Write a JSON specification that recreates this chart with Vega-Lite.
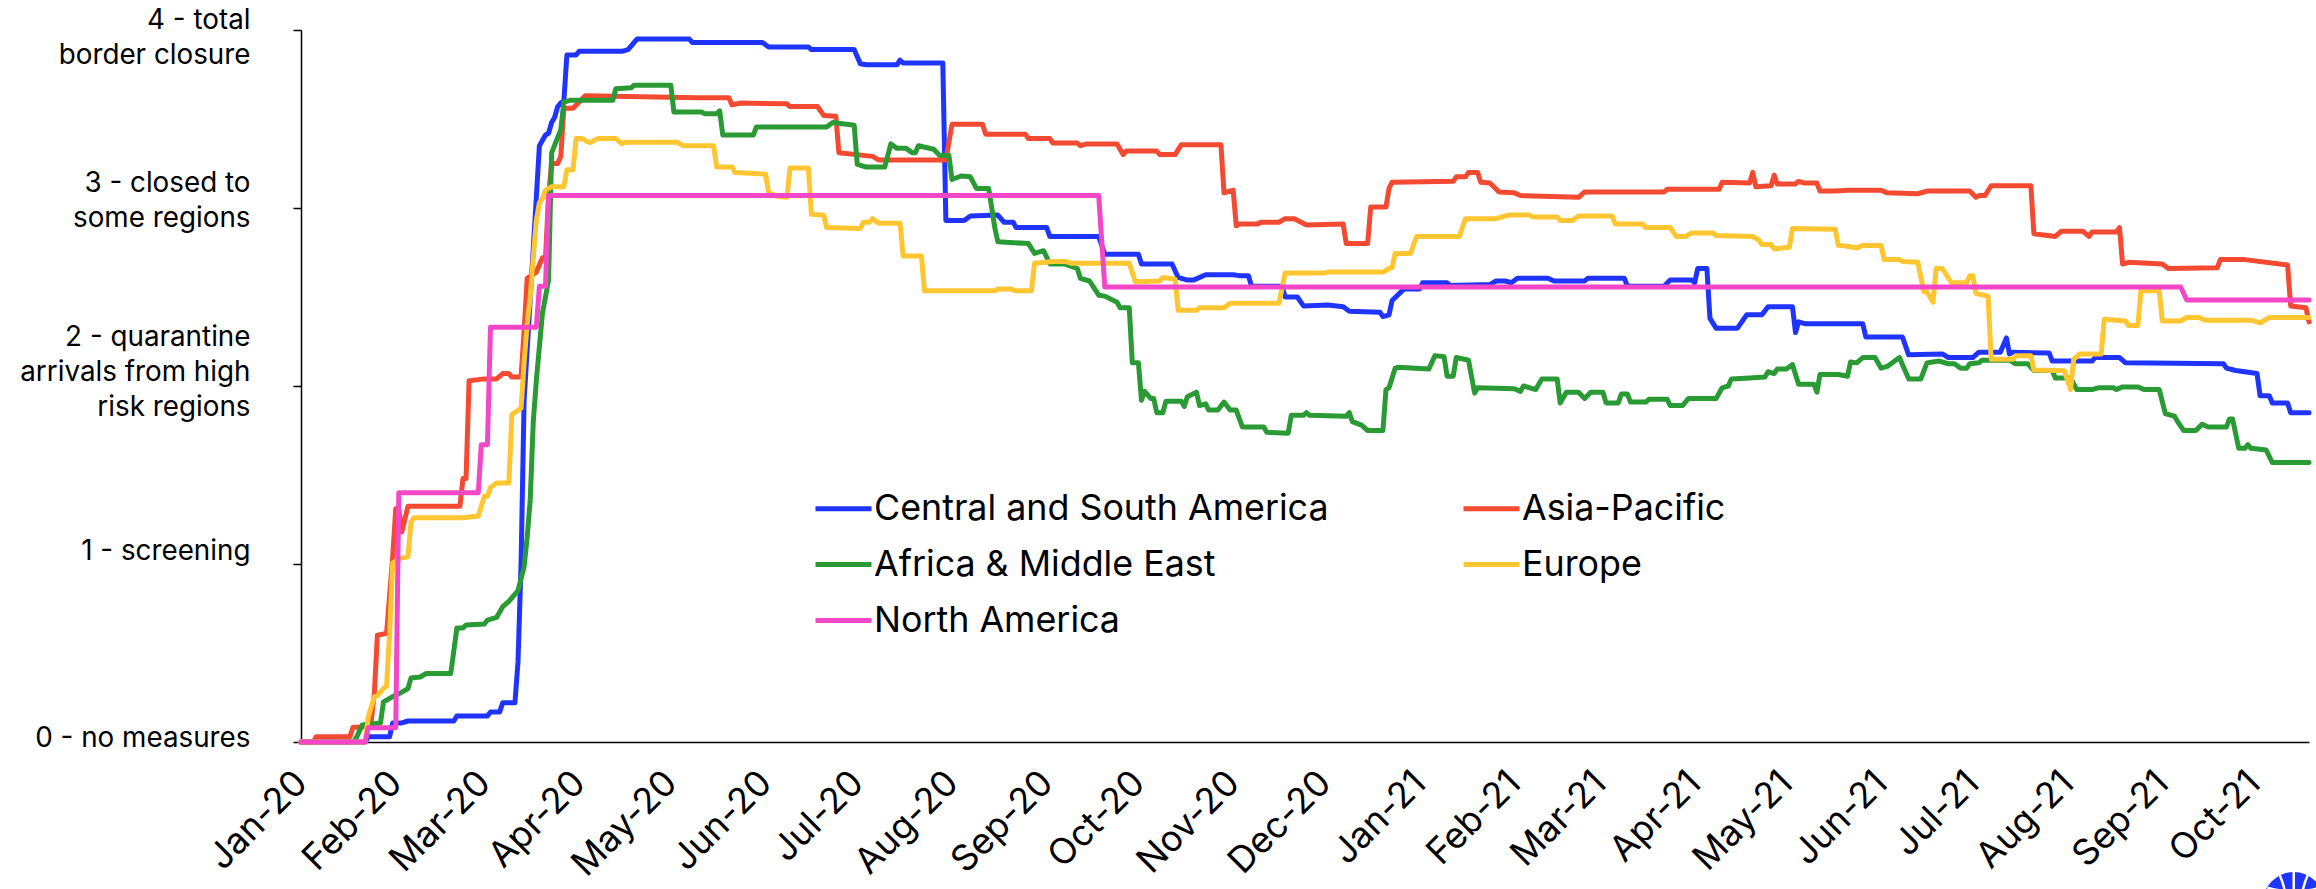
{"$schema":"https://vega.github.io/schema/vega-lite/v6.json","width":2008,"height":712,"autosize":"none","padding":{"left":301,"top":30,"right":7,"bottom":147},"background":"white","config":{"view":{"stroke":null},"font":"Inter"},
"datasets":{
"cs":[{"d":"2020-01-01","v":0},{"d":"2020-01-22","v":0},{"d":"2020-01-23","v":0.03},{"d":"2020-01-30","v":0.03},{"d":"2020-01-31","v":0.107},{"d":"2020-02-03","v":0.107},{"d":"2020-02-05","v":0.118},{"d":"2020-02-20","v":0.118},{"d":"2020-02-21","v":0.146},{"d":"2020-03-02","v":0.146},{"d":"2020-03-03","v":0.169},{"d":"2020-03-06","v":0.169},{"d":"2020-03-07","v":0.22},{"d":"2020-03-11","v":0.22},{"d":"2020-03-12","v":0.45},{"d":"2020-03-13","v":1.0},{"d":"2020-03-14","v":1.92},{"d":"2020-03-18","v":3.06},{"d":"2020-03-19","v":3.35},{"d":"2020-03-21","v":3.41},{"d":"2020-03-22","v":3.42},{"d":"2020-03-23","v":3.48},{"d":"2020-03-24","v":3.51},{"d":"2020-03-25","v":3.57},{"d":"2020-03-26","v":3.59},{"d":"2020-03-27","v":3.6},{"d":"2020-03-28","v":3.86},{"d":"2020-03-31","v":3.86},{"d":"2020-04-01","v":3.88},{"d":"2020-04-15","v":3.88},{"d":"2020-04-17","v":3.89},{"d":"2020-04-20","v":3.95},{"d":"2020-05-07","v":3.95},{"d":"2020-05-08","v":3.93},{"d":"2020-05-31","v":3.93},{"d":"2020-06-02","v":3.905},{"d":"2020-06-15","v":3.905},{"d":"2020-06-16","v":3.89},{"d":"2020-06-30","v":3.89},{"d":"2020-07-02","v":3.81},{"d":"2020-07-04","v":3.805},{"d":"2020-07-14","v":3.805},{"d":"2020-07-15","v":3.83},{"d":"2020-07-16","v":3.815},{"d":"2020-07-29","v":3.815},{"d":"2020-07-30","v":2.93},{"d":"2020-08-05","v":2.93},{"d":"2020-08-07","v":2.955},{"d":"2020-08-16","v":2.96},{"d":"2020-08-18","v":2.92},{"d":"2020-08-21","v":2.92},{"d":"2020-08-22","v":2.89},{"d":"2020-09-01","v":2.89},{"d":"2020-09-02","v":2.84},{"d":"2020-09-18","v":2.84},{"d":"2020-09-20","v":2.74},{"d":"2020-10-01","v":2.74},{"d":"2020-10-02","v":2.685},{"d":"2020-10-12","v":2.685},{"d":"2020-10-14","v":2.61},{"d":"2020-10-17","v":2.595},{"d":"2020-10-19","v":2.595},{"d":"2020-10-23","v":2.625},{"d":"2020-11-01","v":2.625},{"d":"2020-11-03","v":2.62},{"d":"2020-11-06","v":2.62},{"d":"2020-11-07","v":2.56},{"d":"2020-11-17","v":2.56},{"d":"2020-11-18","v":2.5},{"d":"2020-11-22","v":2.5},{"d":"2020-11-24","v":2.45},{"d":"2020-12-02","v":2.455},{"d":"2020-12-07","v":2.445},{"d":"2020-12-09","v":2.42},{"d":"2020-12-19","v":2.415},{"d":"2020-12-20","v":2.39},{"d":"2020-12-22","v":2.4},{"d":"2020-12-23","v":2.48},{"d":"2020-12-26","v":2.53},{"d":"2020-12-27","v":2.545},{"d":"2021-01-01","v":2.545},{"d":"2021-01-02","v":2.58},{"d":"2021-01-10","v":2.58},{"d":"2021-01-11","v":2.565},{"d":"2021-01-24","v":2.57},{"d":"2021-01-26","v":2.59},{"d":"2021-01-29","v":2.59},{"d":"2021-01-31","v":2.58},{"d":"2021-02-02","v":2.605},{"d":"2021-02-12","v":2.605},{"d":"2021-02-14","v":2.59},{"d":"2021-02-24","v":2.59},{"d":"2021-02-25","v":2.605},{"d":"2021-03-09","v":2.605},{"d":"2021-03-10","v":2.56},{"d":"2021-03-22","v":2.56},{"d":"2021-03-24","v":2.595},{"d":"2021-03-31","v":2.595},{"d":"2021-04-01","v":2.58},{"d":"2021-04-02","v":2.66},{"d":"2021-04-05","v":2.66},{"d":"2021-04-06","v":2.38},{"d":"2021-04-08","v":2.325},{"d":"2021-04-15","v":2.325},{"d":"2021-04-18","v":2.4},{"d":"2021-04-23","v":2.4},{"d":"2021-04-25","v":2.445},{"d":"2021-05-03","v":2.445},{"d":"2021-05-04","v":2.3},{"d":"2021-05-05","v":2.36},{"d":"2021-05-07","v":2.35},{"d":"2021-05-26","v":2.35},{"d":"2021-05-27","v":2.275},{"d":"2021-06-08","v":2.275},{"d":"2021-06-10","v":2.175},{"d":"2021-06-21","v":2.18},{"d":"2021-06-23","v":2.16},{"d":"2021-07-01","v":2.16},{"d":"2021-07-03","v":2.19},{"d":"2021-07-10","v":2.19},{"d":"2021-07-12","v":2.27},{"d":"2021-07-13","v":2.18},{"d":"2021-07-14","v":2.19},{"d":"2021-07-26","v":2.185},{"d":"2021-07-27","v":2.14},{"d":"2021-08-09","v":2.14},{"d":"2021-08-10","v":2.16},{"d":"2021-08-18","v":2.16},{"d":"2021-08-20","v":2.13},{"d":"2021-09-21","v":2.125},{"d":"2021-09-22","v":2.1},{"d":"2021-09-25","v":2.087},{"d":"2021-10-02","v":2.07},{"d":"2021-10-03","v":1.945},{"d":"2021-10-06","v":1.945},{"d":"2021-10-07","v":1.905},{"d":"2021-10-12","v":1.905},{"d":"2021-10-13","v":1.85},{"d":"2021-10-19","v":1.85}],
"ap":[{"d":"2020-01-01","v":0},{"d":"2020-01-05","v":0},{"d":"2020-01-06","v":0.03},{"d":"2020-01-17","v":0.03},{"d":"2020-01-18","v":0.083},{"d":"2020-01-21","v":0.083},{"d":"2020-01-24","v":0.12},{"d":"2020-01-25","v":0.275},{"d":"2020-01-26","v":0.6},{"d":"2020-01-29","v":0.61},{"d":"2020-01-31","v":1.04},{"d":"2020-02-01","v":1.31},{"d":"2020-02-02","v":1.31},{"d":"2020-02-03","v":1.18},{"d":"2020-02-05","v":1.325},{"d":"2020-02-22","v":1.325},{"d":"2020-02-23","v":1.48},{"d":"2020-02-24","v":1.48},{"d":"2020-02-25","v":2.03},{"d":"2020-03-01","v":2.04},{"d":"2020-03-05","v":2.04},{"d":"2020-03-07","v":2.07},{"d":"2020-03-09","v":2.07},{"d":"2020-03-10","v":2.05},{"d":"2020-03-13","v":2.05},{"d":"2020-03-14","v":2.31},{"d":"2020-03-15","v":2.605},{"d":"2020-03-18","v":2.64},{"d":"2020-03-20","v":2.72},{"d":"2020-03-21","v":2.72},{"d":"2020-03-22","v":3.07},{"d":"2020-03-23","v":3.25},{"d":"2020-03-25","v":3.25},{"d":"2020-03-26","v":3.29},{"d":"2020-03-27","v":3.56},{"d":"2020-03-30","v":3.56},{"d":"2020-04-01","v":3.595},{"d":"2020-04-03","v":3.63},{"d":"2020-05-10","v":3.62},{"d":"2020-05-20","v":3.62},{"d":"2020-05-21","v":3.58},{"d":"2020-05-24","v":3.59},{"d":"2020-06-08","v":3.585},{"d":"2020-06-09","v":3.57},{"d":"2020-06-18","v":3.57},{"d":"2020-06-20","v":3.52},{"d":"2020-06-24","v":3.515},{"d":"2020-06-25","v":3.31},{"d":"2020-07-06","v":3.29},{"d":"2020-07-08","v":3.27},{"d":"2020-07-30","v":3.27},{"d":"2020-08-01","v":3.47},{"d":"2020-08-11","v":3.47},{"d":"2020-08-12","v":3.415},{"d":"2020-08-25","v":3.415},{"d":"2020-08-26","v":3.39},{"d":"2020-09-02","v":3.39},{"d":"2020-09-03","v":3.365},{"d":"2020-09-11","v":3.365},{"d":"2020-09-12","v":3.35},{"d":"2020-09-14","v":3.36},{"d":"2020-09-24","v":3.36},{"d":"2020-09-26","v":3.3},{"d":"2020-09-27","v":3.32},{"d":"2020-10-07","v":3.32},{"d":"2020-10-08","v":3.3},{"d":"2020-10-13","v":3.3},{"d":"2020-10-15","v":3.355},{"d":"2020-10-28","v":3.355},{"d":"2020-10-29","v":3.085},{"d":"2020-11-01","v":3.1},{"d":"2020-11-02","v":2.9},{"d":"2020-11-03","v":2.91},{"d":"2020-11-09","v":2.91},{"d":"2020-11-10","v":2.92},{"d":"2020-11-16","v":2.92},{"d":"2020-11-18","v":2.94},{"d":"2020-11-21","v":2.94},{"d":"2020-11-25","v":2.905},{"d":"2020-12-07","v":2.91},{"d":"2020-12-08","v":2.8},{"d":"2020-12-15","v":2.8},{"d":"2020-12-16","v":3.005},{"d":"2020-12-21","v":3.005},{"d":"2020-12-22","v":3.11},{"d":"2020-12-23","v":3.145},{"d":"2021-01-12","v":3.15},{"d":"2021-01-13","v":3.175},{"d":"2021-01-16","v":3.175},{"d":"2021-01-17","v":3.2},{"d":"2021-01-20","v":3.2},{"d":"2021-01-21","v":3.145},{"d":"2021-01-24","v":3.14},{"d":"2021-01-27","v":3.09},{"d":"2021-02-01","v":3.085},{"d":"2021-02-03","v":3.07},{"d":"2021-02-22","v":3.06},{"d":"2021-02-24","v":3.09},{"d":"2021-03-22","v":3.09},{"d":"2021-03-23","v":3.105},{"d":"2021-04-09","v":3.105},{"d":"2021-04-10","v":3.145},{"d":"2021-04-19","v":3.14},{"d":"2021-04-20","v":3.2},{"d":"2021-04-21","v":3.12},{"d":"2021-04-26","v":3.125},{"d":"2021-04-27","v":3.185},{"d":"2021-04-28","v":3.135},{"d":"2021-05-04","v":3.135},{"d":"2021-05-05","v":3.15},{"d":"2021-05-07","v":3.14},{"d":"2021-05-11","v":3.14},{"d":"2021-05-12","v":3.095},{"d":"2021-05-17","v":3.095},{"d":"2021-05-21","v":3.1},{"d":"2021-06-01","v":3.1},{"d":"2021-06-03","v":3.085},{"d":"2021-06-13","v":3.08},{"d":"2021-06-16","v":3.095},{"d":"2021-06-30","v":3.095},{"d":"2021-07-02","v":3.06},{"d":"2021-07-03","v":3.07},{"d":"2021-07-05","v":3.07},{"d":"2021-07-07","v":3.125},{"d":"2021-07-20","v":3.125},{"d":"2021-07-21","v":2.855},{"d":"2021-07-28","v":2.84},{"d":"2021-07-30","v":2.87},{"d":"2021-08-06","v":2.87},{"d":"2021-08-08","v":2.84},{"d":"2021-08-09","v":2.865},{"d":"2021-08-17","v":2.865},{"d":"2021-08-18","v":2.89},{"d":"2021-08-19","v":2.685},{"d":"2021-08-21","v":2.695},{"d":"2021-09-01","v":2.685},{"d":"2021-09-03","v":2.66},{"d":"2021-09-19","v":2.665},{"d":"2021-09-20","v":2.71},{"d":"2021-09-28","v":2.71},{"d":"2021-10-12","v":2.68},{"d":"2021-10-13","v":2.45},{"d":"2021-10-18","v":2.44},{"d":"2021-10-19","v":2.36}],
"am":[{"d":"2020-01-01","v":0},{"d":"2020-01-18","v":0},{"d":"2020-01-19","v":0.02},{"d":"2020-01-21","v":0.095},{"d":"2020-01-27","v":0.107},{"d":"2020-01-28","v":0.225},{"d":"2020-01-31","v":0.255},{"d":"2020-02-03","v":0.28},{"d":"2020-02-05","v":0.3},{"d":"2020-02-06","v":0.36},{"d":"2020-02-09","v":0.365},{"d":"2020-02-11","v":0.385},{"d":"2020-02-19","v":0.385},{"d":"2020-02-21","v":0.64},{"d":"2020-02-23","v":0.64},{"d":"2020-02-24","v":0.657},{"d":"2020-03-01","v":0.663},{"d":"2020-03-02","v":0.685},{"d":"2020-03-05","v":0.7},{"d":"2020-03-07","v":0.76},{"d":"2020-03-09","v":0.79},{"d":"2020-03-12","v":0.85},{"d":"2020-03-14","v":0.985},{"d":"2020-03-15","v":1.15},{"d":"2020-03-16","v":1.36},{"d":"2020-03-17","v":1.8},{"d":"2020-03-18","v":2.03},{"d":"2020-03-20","v":2.41},{"d":"2020-03-21","v":2.5},{"d":"2020-03-22","v":2.595},{"d":"2020-03-23","v":3.31},{"d":"2020-03-26","v":3.44},{"d":"2020-03-27","v":3.595},{"d":"2020-03-29","v":3.605},{"d":"2020-04-12","v":3.605},{"d":"2020-04-13","v":3.67},{"d":"2020-04-18","v":3.675},{"d":"2020-04-19","v":3.69},{"d":"2020-05-01","v":3.69},{"d":"2020-05-02","v":3.54},{"d":"2020-05-11","v":3.54},{"d":"2020-05-12","v":3.53},{"d":"2020-05-16","v":3.53},{"d":"2020-05-17","v":3.545},{"d":"2020-05-18","v":3.41},{"d":"2020-05-28","v":3.41},{"d":"2020-05-29","v":3.455},{"d":"2020-06-21","v":3.455},{"d":"2020-06-23","v":3.48},{"d":"2020-06-30","v":3.465},{"d":"2020-07-01","v":3.245},{"d":"2020-07-04","v":3.23},{"d":"2020-07-10","v":3.23},{"d":"2020-07-12","v":3.36},{"d":"2020-07-14","v":3.335},{"d":"2020-07-17","v":3.335},{"d":"2020-07-19","v":3.31},{"d":"2020-07-20","v":3.31},{"d":"2020-07-21","v":3.35},{"d":"2020-07-26","v":3.33},{"d":"2020-07-28","v":3.295},{"d":"2020-07-31","v":3.295},{"d":"2020-08-01","v":3.16},{"d":"2020-08-04","v":3.18},{"d":"2020-08-07","v":3.175},{"d":"2020-08-09","v":3.11},{"d":"2020-08-13","v":3.11},{"d":"2020-08-15","v":2.89},{"d":"2020-08-16","v":2.81},{"d":"2020-08-26","v":2.8},{"d":"2020-08-28","v":2.745},{"d":"2020-08-31","v":2.76},{"d":"2020-09-02","v":2.685},{"d":"2020-09-07","v":2.685},{"d":"2020-09-11","v":2.66},{"d":"2020-09-12","v":2.605},{"d":"2020-09-15","v":2.59},{"d":"2020-09-18","v":2.51},{"d":"2020-09-20","v":2.505},{"d":"2020-09-24","v":2.47},{"d":"2020-09-25","v":2.44},{"d":"2020-09-28","v":2.44},{"d":"2020-09-29","v":2.13},{"d":"2020-10-01","v":2.13},{"d":"2020-10-02","v":1.92},{"d":"2020-10-03","v":1.97},{"d":"2020-10-05","v":1.93},{"d":"2020-10-06","v":1.93},{"d":"2020-10-07","v":1.85},{"d":"2020-10-09","v":1.85},{"d":"2020-10-10","v":1.915},{"d":"2020-10-15","v":1.915},{"d":"2020-10-16","v":1.885},{"d":"2020-10-17","v":1.94},{"d":"2020-10-20","v":1.965},{"d":"2020-10-21","v":1.89},{"d":"2020-10-23","v":1.9},{"d":"2020-10-24","v":1.865},{"d":"2020-10-27","v":1.865},{"d":"2020-10-29","v":1.91},{"d":"2020-10-31","v":1.865},{"d":"2020-11-02","v":1.865},{"d":"2020-11-04","v":1.77},{"d":"2020-11-11","v":1.77},{"d":"2020-11-12","v":1.74},{"d":"2020-11-19","v":1.735},{"d":"2020-11-20","v":1.835},{"d":"2020-11-24","v":1.835},{"d":"2020-11-25","v":1.85},{"d":"2020-11-26","v":1.835},{"d":"2020-12-08","v":1.83},{"d":"2020-12-09","v":1.85},{"d":"2020-12-10","v":1.8},{"d":"2020-12-13","v":1.78},{"d":"2020-12-15","v":1.75},{"d":"2020-12-20","v":1.75},{"d":"2020-12-21","v":1.98},{"d":"2020-12-22","v":1.99},{"d":"2020-12-24","v":2.1},{"d":"2020-12-25","v":2.105},{"d":"2021-01-04","v":2.095},{"d":"2021-01-06","v":2.17},{"d":"2021-01-09","v":2.165},{"d":"2021-01-10","v":2.055},{"d":"2021-01-12","v":2.055},{"d":"2021-01-13","v":2.16},{"d":"2021-01-17","v":2.145},{"d":"2021-01-19","v":1.96},{"d":"2021-01-20","v":1.99},{"d":"2021-02-01","v":1.985},{"d":"2021-02-03","v":1.97},{"d":"2021-02-04","v":2.0},{"d":"2021-02-08","v":1.98},{"d":"2021-02-10","v":2.04},{"d":"2021-02-15","v":2.04},{"d":"2021-02-16","v":1.905},{"d":"2021-02-18","v":1.965},{"d":"2021-02-22","v":1.965},{"d":"2021-02-24","v":1.93},{"d":"2021-02-26","v":1.965},{"d":"2021-03-02","v":1.965},{"d":"2021-03-03","v":1.905},{"d":"2021-03-07","v":1.905},{"d":"2021-03-08","v":1.955},{"d":"2021-03-10","v":1.955},{"d":"2021-03-11","v":1.91},{"d":"2021-03-16","v":1.91},{"d":"2021-03-17","v":1.925},{"d":"2021-03-23","v":1.925},{"d":"2021-03-24","v":1.89},{"d":"2021-03-28","v":1.89},{"d":"2021-03-30","v":1.93},{"d":"2021-04-08","v":1.93},{"d":"2021-04-10","v":1.99},{"d":"2021-04-12","v":2.0},{"d":"2021-04-13","v":2.04},{"d":"2021-04-19","v":2.045},{"d":"2021-04-24","v":2.05},{"d":"2021-04-25","v":2.08},{"d":"2021-04-27","v":2.07},{"d":"2021-04-28","v":2.095},{"d":"2021-05-01","v":2.095},{"d":"2021-05-03","v":2.12},{"d":"2021-05-05","v":2.01},{"d":"2021-05-10","v":2.01},{"d":"2021-05-11","v":1.965},{"d":"2021-05-12","v":2.065},{"d":"2021-05-18","v":2.065},{"d":"2021-05-21","v":2.055},{"d":"2021-05-22","v":2.135},{"d":"2021-05-24","v":2.13},{"d":"2021-05-26","v":2.16},{"d":"2021-05-30","v":2.16},{"d":"2021-06-01","v":2.1},{"d":"2021-06-03","v":2.11},{"d":"2021-06-07","v":2.16},{"d":"2021-06-08","v":2.12},{"d":"2021-06-10","v":2.04},{"d":"2021-06-14","v":2.04},{"d":"2021-06-16","v":2.13},{"d":"2021-06-20","v":2.14},{"d":"2021-06-23","v":2.125},{"d":"2021-06-25","v":2.125},{"d":"2021-06-27","v":2.1},{"d":"2021-06-29","v":2.1},{"d":"2021-06-30","v":2.125},{"d":"2021-07-03","v":2.13},{"d":"2021-07-04","v":2.145},{"d":"2021-07-13","v":2.145},{"d":"2021-07-15","v":2.125},{"d":"2021-07-19","v":2.125},{"d":"2021-07-21","v":2.087},{"d":"2021-07-27","v":2.087},{"d":"2021-07-28","v":2.045},{"d":"2021-08-02","v":2.045},{"d":"2021-08-04","v":1.98},{"d":"2021-08-09","v":1.98},{"d":"2021-08-11","v":1.99},{"d":"2021-08-16","v":1.99},{"d":"2021-08-17","v":1.98},{"d":"2021-08-19","v":1.995},{"d":"2021-08-24","v":1.995},{"d":"2021-08-26","v":1.98},{"d":"2021-08-31","v":1.98},{"d":"2021-09-02","v":1.845},{"d":"2021-09-05","v":1.83},{"d":"2021-09-06","v":1.8},{"d":"2021-09-08","v":1.75},{"d":"2021-09-12","v":1.75},{"d":"2021-09-14","v":1.785},{"d":"2021-09-16","v":1.77},{"d":"2021-09-22","v":1.77},{"d":"2021-09-23","v":1.815},{"d":"2021-09-24","v":1.815},{"d":"2021-09-26","v":1.65},{"d":"2021-09-28","v":1.65},{"d":"2021-09-29","v":1.67},{"d":"2021-09-30","v":1.65},{"d":"2021-10-05","v":1.64},{"d":"2021-10-07","v":1.57},{"d":"2021-10-19","v":1.57}],
"eu":[{"d":"2020-01-01","v":0},{"d":"2020-01-22","v":0},{"d":"2020-01-23","v":0.14},{"d":"2020-01-25","v":0.255},{"d":"2020-01-26","v":0.26},{"d":"2020-01-28","v":0.3},{"d":"2020-01-29","v":0.315},{"d":"2020-01-30","v":0.61},{"d":"2020-01-31","v":1.005},{"d":"2020-02-02","v":1.03},{"d":"2020-02-05","v":1.04},{"d":"2020-02-06","v":1.235},{"d":"2020-02-07","v":1.26},{"d":"2020-02-23","v":1.26},{"d":"2020-02-28","v":1.27},{"d":"2020-03-01","v":1.38},{"d":"2020-03-02","v":1.38},{"d":"2020-03-03","v":1.43},{"d":"2020-03-05","v":1.455},{"d":"2020-03-09","v":1.455},{"d":"2020-03-10","v":1.84},{"d":"2020-03-13","v":1.875},{"d":"2020-03-14","v":2.13},{"d":"2020-03-15","v":2.35},{"d":"2020-03-16","v":2.5},{"d":"2020-03-17","v":2.725},{"d":"2020-03-18","v":2.93},{"d":"2020-03-19","v":3.03},{"d":"2020-03-20","v":3.055},{"d":"2020-03-21","v":3.1},{"d":"2020-03-23","v":3.12},{"d":"2020-03-27","v":3.12},{"d":"2020-03-28","v":3.215},{"d":"2020-03-30","v":3.215},{"d":"2020-03-31","v":3.39},{"d":"2020-04-02","v":3.39},{"d":"2020-04-04","v":3.37},{"d":"2020-04-05","v":3.37},{"d":"2020-04-07","v":3.39},{"d":"2020-04-13","v":3.39},{"d":"2020-04-15","v":3.36},{"d":"2020-04-16","v":3.37},{"d":"2020-05-03","v":3.37},{"d":"2020-05-05","v":3.35},{"d":"2020-05-15","v":3.35},{"d":"2020-05-16","v":3.23},{"d":"2020-05-21","v":3.23},{"d":"2020-05-22","v":3.2},{"d":"2020-06-01","v":3.19},{"d":"2020-06-02","v":3.085},{"d":"2020-06-05","v":3.065},{"d":"2020-06-08","v":3.06},{"d":"2020-06-09","v":3.225},{"d":"2020-06-15","v":3.225},{"d":"2020-06-16","v":2.965},{"d":"2020-06-20","v":2.96},{"d":"2020-06-21","v":2.89},{"d":"2020-07-02","v":2.885},{"d":"2020-07-03","v":2.92},{"d":"2020-07-05","v":2.92},{"d":"2020-07-06","v":2.94},{"d":"2020-07-08","v":2.915},{"d":"2020-07-15","v":2.915},{"d":"2020-07-16","v":2.73},{"d":"2020-07-22","v":2.73},{"d":"2020-07-23","v":2.535},{"d":"2020-08-15","v":2.535},{"d":"2020-08-16","v":2.545},{"d":"2020-08-20","v":2.545},{"d":"2020-08-22","v":2.535},{"d":"2020-08-27","v":2.535},{"d":"2020-08-28","v":2.69},{"d":"2020-09-03","v":2.7},{"d":"2020-09-07","v":2.7},{"d":"2020-09-09","v":2.69},{"d":"2020-09-28","v":2.69},{"d":"2020-09-30","v":2.585},{"d":"2020-10-08","v":2.59},{"d":"2020-10-09","v":2.61},{"d":"2020-10-13","v":2.6},{"d":"2020-10-14","v":2.425},{"d":"2020-10-20","v":2.425},{"d":"2020-10-21","v":2.44},{"d":"2020-10-29","v":2.44},{"d":"2020-10-31","v":2.465},{"d":"2020-11-16","v":2.465},{"d":"2020-11-18","v":2.635},{"d":"2020-12-01","v":2.635},{"d":"2020-12-02","v":2.64},{"d":"2020-12-20","v":2.64},{"d":"2020-12-22","v":2.66},{"d":"2020-12-23","v":2.665},{"d":"2020-12-24","v":2.745},{"d":"2020-12-29","v":2.745},{"d":"2020-12-31","v":2.84},{"d":"2021-01-14","v":2.84},{"d":"2021-01-16","v":2.94},{"d":"2021-01-26","v":2.94},{"d":"2021-01-30","v":2.96},{"d":"2021-02-06","v":2.96},{"d":"2021-02-07","v":2.95},{"d":"2021-02-15","v":2.95},{"d":"2021-02-16","v":2.93},{"d":"2021-02-20","v":2.93},{"d":"2021-02-22","v":2.955},{"d":"2021-03-05","v":2.955},{"d":"2021-03-06","v":2.91},{"d":"2021-03-15","v":2.91},{"d":"2021-03-16","v":2.89},{"d":"2021-03-24","v":2.89},{"d":"2021-03-26","v":2.84},{"d":"2021-03-29","v":2.84},{"d":"2021-03-31","v":2.86},{"d":"2021-04-07","v":2.86},{"d":"2021-04-08","v":2.845},{"d":"2021-04-20","v":2.84},{"d":"2021-04-22","v":2.82},{"d":"2021-04-23","v":2.795},{"d":"2021-04-26","v":2.795},{"d":"2021-04-27","v":2.77},{"d":"2021-05-02","v":2.78},{"d":"2021-05-03","v":2.885},{"d":"2021-05-17","v":2.88},{"d":"2021-05-18","v":2.79},{"d":"2021-05-21","v":2.785},{"d":"2021-05-24","v":2.775},{"d":"2021-05-26","v":2.79},{"d":"2021-06-01","v":2.79},{"d":"2021-06-02","v":2.71},{"d":"2021-06-07","v":2.71},{"d":"2021-06-08","v":2.7},{"d":"2021-06-13","v":2.695},{"d":"2021-06-15","v":2.53},{"d":"2021-06-16","v":2.53},{"d":"2021-06-18","v":2.47},{"d":"2021-06-19","v":2.66},{"d":"2021-06-21","v":2.66},{"d":"2021-06-24","v":2.58},{"d":"2021-06-29","v":2.58},{"d":"2021-06-30","v":2.62},{"d":"2021-07-01","v":2.62},{"d":"2021-07-02","v":2.52},{"d":"2021-07-06","v":2.505},{"d":"2021-07-07","v":2.15},{"d":"2021-07-14","v":2.15},{"d":"2021-07-15","v":2.17},{"d":"2021-07-20","v":2.17},{"d":"2021-07-21","v":2.09},{"d":"2021-07-31","v":2.085},{"d":"2021-08-02","v":1.98},{"d":"2021-08-03","v":2.15},{"d":"2021-08-05","v":2.18},{"d":"2021-08-12","v":2.18},{"d":"2021-08-13","v":2.375},{"d":"2021-08-20","v":2.365},{"d":"2021-08-21","v":2.34},{"d":"2021-08-24","v":2.34},{"d":"2021-08-25","v":2.535},{"d":"2021-08-31","v":2.535},{"d":"2021-09-01","v":2.365},{"d":"2021-09-07","v":2.365},{"d":"2021-09-09","v":2.385},{"d":"2021-09-13","v":2.385},{"d":"2021-09-15","v":2.37},{"d":"2021-09-30","v":2.37},{"d":"2021-10-03","v":2.355},{"d":"2021-10-06","v":2.385},{"d":"2021-10-19","v":2.385}],
"na":[{"d":"2020-01-01","v":0},{"d":"2020-01-22","v":0},{"d":"2020-01-23","v":0.08},{"d":"2020-02-01","v":0.08},{"d":"2020-02-02","v":1.4},{"d":"2020-02-28","v":1.4},{"d":"2020-02-29","v":1.67},{"d":"2020-03-02","v":1.67},{"d":"2020-03-03","v":2.33},{"d":"2020-03-18","v":2.33},{"d":"2020-03-19","v":2.56},{"d":"2020-03-21","v":2.56},{"d":"2020-03-22","v":3.07},{"d":"2020-09-18","v":3.07},{"d":"2020-09-20","v":2.556},{"d":"2021-09-07","v":2.556},{"d":"2021-09-09","v":2.483},{"d":"2021-10-19","v":2.483}],
"logo":[{"d":"2021-10-14","v":-0.905}]
},
"encoding":{"x":{"field":"d","type":"temporal","title":null,"scale":{"type":"utc","domain":["2020-01-01","2021-10-19"]},"axis":{"labelExpr":"utcFormat(datum.value,'%b-%y')","tickCount":{"interval":"month","step":1},"ticks":false,"grid":false,"domainColor":"#000","domainWidth":1.5,"labelAngle":-45,"labelAlign":"right","labelBaseline":"middle","labelFontSize":36,"labelColor":"#000","labelPadding":35,"labelOverlap":false,"labelFont":"Inter","labelBound":false,"labelFlush":false,"labelLimit":400}},
"y":{"field":"v","type":"quantitative","title":null,"scale":{"domain":[0,4],"nice":false,"zero":false},"axis":{"values":[0,1,2,3,4],"grid":false,"domainColor":"#000","domainWidth":1.5,"tickColor":"#000","tickWidth":1.5,"tickSize":8,"labelFont":"Inter","labelFontSize":27.8,"labelColor":"#000","labelPadding":43,"labelLineHeight":35,"labelAlign":"right","labelOverlap":false,"labelLimit":400,"labelExpr":"datum.value==4?['4 - total\u00a0\u00a0','border closure']:datum.value==3?['3 - closed to\u00a0\u00a0','some regions']:datum.value==2?['2 - quarantine\u00a0\u00a0','arrivals from high\u00a0','risk regions\u00a0']:datum.value==1?'1 - screening':'0 - no measures'","labelOffset":{"condition":[{"test":"datum.value==4","value":-10},{"test":"datum.value==3","value":-25},{"test":"datum.value==2","value":-49},{"test":"datum.value==1","value":-13}],"value":-4}}}},
"layer":[
{"data":{"name":"cs"},"mark":{"type":"line","strokeWidth":5,"strokeJoin":"round","strokeCap":"round"},"encoding":{"color":{"datum":"Central and South America","type":"nominal","title":null,"scale":{"domain":["Central and South America","Africa & Middle East","North America","Asia-Pacific","Europe"],"range":["#1f35ff","#2a9a35","#f347c8","#f44a32","#ffc632"]},"legend":{"orient":"none","legendX":512,"legendY":448,"columns":2,"symbolType":"stroke","symbolSize":3136,"symbolStrokeWidth":5,"labelFont":"Inter","labelFontSize":35.8,"labelColor":"#000","labelLimit":700,"labelOffset":0,"columnPadding":124,"rowPadding":7,"padding":0}}}},
{"data":{"name":"ap"},"mark":{"type":"line","strokeWidth":5,"strokeJoin":"round","strokeCap":"round"},"encoding":{"color":{"datum":"Asia-Pacific","type":"nominal"}}},
{"data":{"name":"am"},"mark":{"type":"line","strokeWidth":5,"strokeJoin":"round","strokeCap":"round"},"encoding":{"color":{"datum":"Africa & Middle East","type":"nominal"}}},
{"data":{"name":"eu"},"mark":{"type":"line","strokeWidth":5,"strokeJoin":"round","strokeCap":"round"},"encoding":{"color":{"datum":"Europe","type":"nominal"}}},
{"data":{"name":"na"},"mark":{"type":"line","strokeWidth":5,"strokeJoin":"round","strokeCap":"round"},"encoding":{"color":{"datum":"North America","type":"nominal"}}},
{"data":{"name":"logo"},"mark":{"type":"point","shape":"circle","filled":true,"size":3844,"color":"#1f35ff","opacity":1,"clip":false}},
{"data":{"name":"logo"},"mark":{"type":"point","shape":"M-1 0H1M0 -1V1M-0.45 -0.9Q-0.05 0 -0.45 0.9M0.45 -0.9Q0.05 0 0.45 0.9M-0.85 -0.5Q0 -0.25 0.85 -0.5M-0.85 0.5Q0 0.25 0.85 0.5","filled":false,"size":3844,"color":"#ffffff","strokeWidth":2.5,"opacity":1,"clip":false}}
]}
